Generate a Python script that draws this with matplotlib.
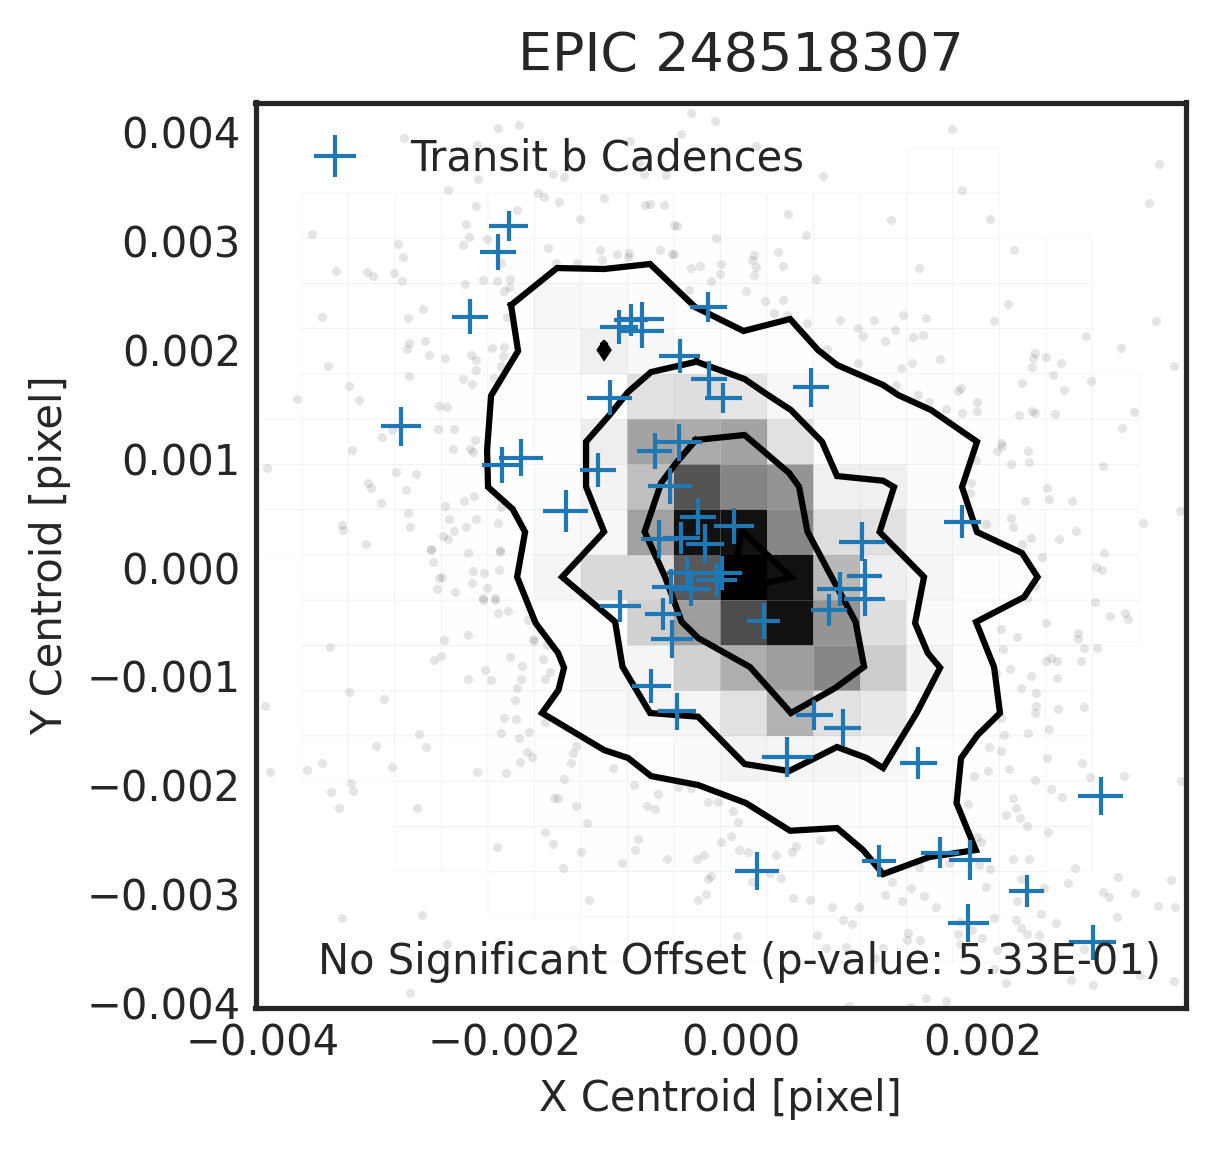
import numpy as np
import matplotlib
matplotlib.use('Agg')
import matplotlib.pyplot as plt
from matplotlib.lines import Line2D
from matplotlib.transforms import ScaledTranslation

# all centroid values below are in units of 1e-3 pixel
title = 'EPIC 248518307'
xlabel = 'X Centroid [pixel]'
ylabel = 'Y Centroid [pixel]'
legend_label = 'Transit b Cadences'
note = 'No Significant Offset (p-value: 5.33E-01)'
xticks = [-4, -2, 0, 2]
yticks = [-4, -3, -2, -1, 0, 1, 2, 3, 4]
xlim = (-4.013, 3.673)
ylim = (-4.040, 4.270)

# 2d histogram density, rows from the top of the plot, 20 x 20 bins
density = [
    [0, 0, 0, 0, 0, 0, 0, 0, 0, 0, 0, 0, 0, 0, 0, 0, 0, 0, 0, 0],
    [0, 0, 0, 0, 0, 0, 0, 0, 0, 0, 0, 0, 0, 0, .003, .003, 0, 0, 0, 0],
    [0, .002, .002, .002, .002, .002, .002, .002, .002, .002, .002, .002, .002, .002, .003, .003, 0, 0, 0, 0],
    [0, .002, .002, .003, .003, .004, .006, .006, .006, .005, .004, .003, .003, .003, .003, .003, .002, .002, 0, 0],
    [0, .002, .002, .003, .003, .004, .035, .02, .015, .006, .005, .005, .004, .004, .003, .003, .002, .002, 0, 0],
    [0, .002, .002, .003, .003, .005, .02, .06, .03, .01, .01, .01, .01, .005, .004, .003, .002, .002, 0, 0],
    [0, .002, .002, .003, .004, .006, .01, .01, .12, .13, .1, .03, .025, .01, .005, .004, .003, .002, .002, 0],
    [.002, .002, .002, .003, .004, .006, .01, .07, .36, .33, .36, .12, .01, .01, .015, .005, .003, .002, .002, 0],
    [.002, .002, .002, .003, .004, .006, .015, .05, .25, .67, .48, .42, .06, .06, .015, .006, .003, .002, .002, 0],
    [.002, .002, .002, .003, .004, .006, .025, .035, .37, .93, .93, .47, .13, .12, .03, .03, .01, .003, .002, 0],
    [0, .002, .002, .003, .004, .006, .04, .15, .15, .65, 1, .93, .28, .07, .04, .01, .01, .003, .002, 0],
    [0, .002, .002, .003, .004, .005, .01, .01, .18, .38, .7, .93, .42, .13, .02, .005, .003, .002, .002, 0],
    [0, .002, .002, .003, .003, .005, .008, .03, .04, .18, .32, .38, .47, .2, .05, .006, .003, .002, 0, 0],
    [0, .002, .002, .003, .003, .004, .006, .02, .04, .04, .12, .30, .12, .09, .015, .004, .003, .002, 0, 0],
    [0, .002, .002, .003, .003, .004, .005, .006, .01, .02, .05, .04, .04, .03, .005, .004, .003, .002, 0, 0],
    [0, 0, 0, .002, .002, .003, .004, .004, .005, .006, .01, .015, .015, .01, .01, .005, .003, .002, 0, 0],
    [0, 0, 0, .002, .002, .003, .003, .004, .004, .004, .005, .005, .005, .005, .01, .01, .003, .002, 0, 0],
    [0, 0, 0, 0, 0, .002, .002, .002, .003, .003, .003, .003, .003, .004, .004, .004, .003, 0, 0, 0],
    [0, 0, 0, 0, 0, 0, 0, .002, .002, .002, .002, .002, .002, .002, .002, .002, 0, 0, 0, 0],
    [0, 0, 0, 0, 0, 0, 0, 0, 0, 0, 0, 0, 0, 0, 0, 0, 0, 0, 0, 0],
]

contour_outer = [
    (-1.901, 2.410), (-1.521, 2.750), (-1.132, 2.741), (-0.752, 2.787), (-0.380, 2.392), (0.020, 2.172),
    (0.405, 2.282), (0.636, 1.997), (0.793, 1.860), (1.174, 1.676), (1.298, 1.584), (1.570, 1.446),
    (1.950, 1.155), (1.826, 0.739), (1.950, 0.326), (2.322, 0.133), (2.450, -0.087), (2.339, -0.271),
    (1.942, -0.500), (2.091, -0.914), (2.140, -1.336), (1.955, -1.538), (1.818, -1.749), (1.781, -2.163),
    (1.940, -2.594), (1.558, -2.658), (1.174, -2.815), (1.008, -2.594), (0.793, -2.392), (0.405, -2.417),
    (0.041, -2.163), (-0.355, -1.997), (-0.744, -1.915), (-0.934, -1.749), (-1.132, -1.676), (-1.645, -1.336),
    (-1.509, -1.125), (-1.463, -0.920), (-1.512, -0.785), (-1.698, -0.510), (-1.851, -0.087), (-1.785, 0.326),
    (-1.888, 0.537), (-2.091, 0.739), (-2.099, 1.079), (-2.066, 1.578), (-1.843, 1.988), (-1.901, 2.410),
]
contour_middle = [
    (-0.369, 1.890), (0.029, 1.731), (0.198, 1.602), (0.412, 1.446), (0.669, 1.155), (0.793, 0.840),
    (1.174, 0.797), (1.264, 0.739), (1.145, 0.326), (1.512, -0.087), (1.438, -0.510), (1.543, -0.785),
    (1.645, -0.920), (1.451, -1.336), (1.174, -1.841), (1.038, -1.749), (0.793, -1.648), (0.397, -1.869),
    (0.029, -1.804), (-0.355, -1.370), (-0.752, -1.336), (-0.980, -0.911), (-1.041, -0.498), (-1.479, -0.087),
    (-1.132, 0.329), (-1.281, 0.742), (-1.281, 1.155), (-1.087, 1.400), (-0.934, 1.612), (-0.744, 1.795),
    (-0.369, 1.890),
]
contour_inner = [
    (-0.374, 1.171), (0.029, 1.217), (0.397, 0.868), (0.479, 0.742), (0.549, 0.329), (0.748, -0.087),
    (0.946, -0.498), (1.017, -0.911), (0.777, -1.107), (0.412, -1.336), (0.074, -0.914), (-0.355, -0.647),
    (-0.491, -0.498), (-0.628, -0.087), (-0.797, 0.329), (-0.661, 0.776), (-0.537, 0.960), (-0.374, 1.171),
]
contour_core = [(0.008, 0.335), (0.413, -0.087), (0.025, -0.188), (-0.066, -0.087), (-0.033, 0.115), (0.008, 0.335)]
contour_spot = [(-1.132, 2.052), (-1.099, 1.997), (-1.132, 1.942), (-1.165, 1.997), (-1.132, 2.052)]

# transit cadences: x, y, half length of the cross in x, in y
cadence_x = [-0.273, -1.011, -0.909, -0.818, -0.818, -0.506, -0.268, -0.149, -1.087, 0.576, -0.512, -0.714, -1.821,
             -1.975, -1.185, -0.588, -1.448, -0.355, -0.060, 1.826, -0.678, -0.496, -0.298, 0.998, 1.023, 0.815,
             1.023, 0.727, 0.188, -0.157, -0.200, -0.446, -0.579, -0.413, -1.000, -0.645, -0.570, -0.744, -0.531,
             0.603, 0.840, 0.380, 1.463, 1.645, 1.140, 1.893, 0.130, 2.973, 2.361, 1.876, 2.907, -1.920, -2.008,
             -2.240, -2.810]
cadence_y = [2.392, 2.211, 2.273, 2.282, 2.174, 1.945, 1.731, 1.559, 1.559, 1.657, 1.152, 1.070, 1.008,
             0.941, 0.895, 0.751, 0.522, 0.466, 0.384, 0.421, 0.262, 0.271, 0.219, 0.237, -0.075, -0.197,
             -0.289, -0.390, -0.491, -0.048, -0.115, -0.051, -0.176, -0.197, -0.351, -0.427, -0.657, -1.085, -1.318,
             -1.352, -1.471, -1.737, -1.792, -2.619, -2.692, -2.683, -2.784, -2.095, -2.968, -3.264, -3.439, 3.136, 2.900,
             2.303, 1.299]
cadence_xerr = [.153, .157, .140, .178, .182, .169, .149, .153, .186, .149, .190, .145, .182,
                .169, .149, .182, .186, .149, .165, .153, .153, .153, .153, .190, .145, .190,
                .169, .149, .136, .161, .169, .165, .157, .153, .169, .145, .174, .161, .157,
                .153, .153, .211, .153, .157, .140, .174, .182, .186, .145, .169, .194, .161, .149,
                .145, .165]
cadence_yerr = [.138, .156, .147, .156, .156, .156, .165, .138, .161, .179, .170, .161, .170,
                .165, .156, .165, .193, .170, .165, .151, .174, .151, .179, .179, .156, .156,
                .156, .151, .165, .156, .156, .147, .161, .156, .147, .147, .174, .156, .170,
                .138, .170, .184, .147, .142, .147, .184, .174, .174, .147, .174, .161, .142, .165,
                .161, .179]

# faint individual samples outside the contours
samples = [
    (-2.006, 4.033), (-1.832, 4.060), (-2.782, 3.941), (-2.179, 3.880), (-2.171, 3.565), (-1.556, 3.611),
    (-2.419, 3.464), (-1.675, 3.436), (-1.625, 3.399), (-2.187, 3.317), (-1.849, 3.280), (-2.270, 3.151),
    (-3.543, 3.059), (-2.245, 3.032), (-2.295, 2.958), (-2.096, 3.017), (-2.832, 2.968), (-1.592, 2.931),
    (-2.790, 2.848), (-1.981, 2.793), (-3.345, 2.720), (-3.088, 2.711), (-3.039, 2.674), (-2.865, 2.702),
    (-2.799, 2.628), (-2.278, 2.601), (-2.130, 2.637), (-2.014, 2.628), (-1.907, 2.646), (-1.915, 2.573),
    (-1.956, 2.536), (-2.625, 2.371), (-3.460, 2.297), (-2.749, 2.288), (-1.931, 2.297), (-2.741, 2.059),
    (-2.758, 2.004), (-2.609, 2.077), (-2.055, 2.013), (-1.956, 2.022), (-2.576, 1.949), (-2.444, 1.921),
    (-2.229, 1.949), (-2.187, 1.903), (-1.964, 1.939), (-3.411, 1.848), (-1.983, 1.848), (-2.187, 1.811),
    (-2.741, 1.756), (-2.295, 1.728), (-2.221, 1.682), (-2.039, 1.737), (-3.237, 1.664), (-3.667, 1.545),
    (-3.154, 1.535), (-2.493, 1.480), (-2.427, 1.471), (-2.502, 1.269), (-2.369, 1.269), (-2.882, 1.260),
    (-2.964, 1.196), (-3.212, 1.076), (-2.196, 1.168), (-2.378, 1.085), (-2.237, 1.085), (-2.212, 1.058),
    (-3.915, 0.911), (-2.849, 0.874), (-2.683, 0.856), (-3.080, 0.773), (-3.055, 0.727), (-2.766, 0.709),
    (-2.973, 0.590), (-2.204, 0.654), (-2.287, 0.608), (-2.444, 0.562), (-1.981, 0.553), (-2.749, 0.498),
    (-2.411, 0.443), (-2.187, 0.443), (-2.006, 0.406), (-3.295, 0.388), (-3.287, 0.342), (-2.733, 0.369),
    (-2.270, 0.369), (-2.369, 0.332), (-2.460, 0.286), (-2.419, 0.259), (-3.097, 0.213), (-2.559, 0.167),
    (-1.989, 0.161),
    (-2.130, -0.298), (-2.031, -0.298), (-2.006, -0.421), (-1.923, -0.402), (-3.394, -0.733), (-2.452, -0.669),
    (-2.254, -0.623), (-2.477, -0.816), (-2.535, -0.852), (-1.758, -0.482), (-1.717, -0.659), (-1.708, -0.678),
    (-1.606, -0.712), (-1.907, -0.825), (-1.634, -0.843), (-1.807, -0.907), (-2.113, -0.944), (-1.576, -0.962),
    (-2.254, -1.027), (-2.064, -1.036), (-1.815, -1.027), (-1.617, -1.027), (-1.849, -1.109), (-3.237, -1.146),
    (-2.948, -1.210), (-1.865, -1.219), (-3.931, -1.275), (-1.956, -1.385), (-1.857, -1.394), (-1.620, -1.416),
    (-1.981, -1.522), (-1.750, -1.513), (-2.659, -1.532), (-1.832, -1.568), (-2.601, -1.651), (-3.014, -1.642),
    (-1.766, -1.697), (-1.725, -1.743), (-1.824, -1.789), (-3.460, -1.798), (-3.584, -1.862), (-3.890, -1.881),
    (-2.882, -1.835), (-2.179, -1.881), (-1.940, -1.890), (-3.221, -1.982), (-3.386, -2.064), (-3.204, -2.055),
    (-3.320, -2.211), (-2.675, -2.211), (-1.543, -2.119), (-1.617, -2.432), (-1.556, -2.542), (-2.014, -2.569),
    (-3.295, -3.221), (-2.634, -3.194), (-2.427, -3.460), (-2.733, -3.910),
    (-1.531, 2.793), (-1.356, 2.793), (-1.149, 2.824), (-1.026, 2.879), (-0.928, 2.885), (-0.674, 2.915),
    (-0.567, 2.879), (0.106, 2.870), (0.304, 2.900), (0.090, 2.824), (-0.169, 2.787), (-0.338, 2.769),
    (-0.414, 2.747), (0.350, 2.769), (0.121, 2.757), (-0.176, 2.692), (0.106, 2.686), (-0.252, 2.631),
    (0.619, 2.646), (-0.430, 2.548), (0.038, 2.539), (0.200, 2.447), (0.344, 2.456), (0.274, 2.334),
    (0.381, 2.319), (0.549, 2.242), (0.815, 2.273), (1.102, 2.273), (0.968, 2.197), (1.011, 2.126),
    (0.708, 2.006), (0.968, 1.875),
    (-0.411, 4.171), (-0.212, 4.097), (-0.493, 3.978), (-0.915, 3.914), (0.126, 3.868), (-1.460, 3.583),
    (-0.799, 3.611), (-0.617, 3.601), (0.680, 3.592), (-1.502, 3.354), (-1.130, 3.390), (-0.791, 3.326),
    (-0.750, 3.335), (-0.634, 3.326), (0.391, 3.243), (-1.328, 3.197), (-0.551, 3.142), (-0.526, 3.133),
    (0.540, 3.050), (-0.204, 3.023), (-0.840, 3.712), (-1.163, 2.913), (-0.931, 2.848), (-0.551, 2.876),
    (1.746, 4.024), (3.457, 3.702), (1.829, 3.464), (3.374, 3.344), (2.060, 3.197), (1.242, 3.188),
    (2.259, 2.913), (1.474, 2.747), (2.209, 2.417), (2.093, 2.261), (3.432, 2.261), (1.341, 2.316),
    (1.531, 2.288), (1.275, 2.178), (1.193, 2.077), (1.424, 2.114), (1.507, 2.132), (2.854, 2.123),
    (3.143, 2.013), (2.432, 1.967), (2.416, 1.921), (2.523, 1.930), (2.647, 1.875), (1.416, 1.875),
    (1.325, 1.829), (1.647, 1.912), (2.407, 1.838), (3.579, 1.848), (2.581, 1.765), (2.895, 1.710),
    (2.325, 1.691), (1.281, 1.673), (1.465, 1.581), (2.672, 1.627), (1.796, 1.618), (1.821, 1.646),
    (1.556, 1.517), (1.953, 1.517), (1.697, 1.453), (1.829, 1.416), (1.953, 1.434), (2.300, 1.398),
    (2.407, 1.434), (2.432, 1.416), (2.598, 1.407), (3.250, 1.425), (3.151, 1.278), (2.151, 1.141),
    (2.160, 1.113), (2.118, 1.067), (2.374, 1.067), (2.383, 0.966), (2.234, 0.948), (2.994, 0.929),
    (1.940, 0.984), (1.903, 0.773), (1.895, 0.681), (2.531, 0.727), (2.548, 0.626), (2.350, 0.608),
    (2.738, 0.608), (3.631, 0.516), (3.325, 0.406), (2.234, 0.452), (2.250, 0.369), (2.027, 0.397),
    (2.771, 0.332), (2.399, 0.268), (2.631, 0.259), (2.325, 0.213),
    (2.926, -0.314), (3.052, -0.448), (3.176, -0.421), (3.201, -0.476), (2.523, -0.512), (2.788, -0.604),
    (2.788, -0.659), (2.151, -0.567), (2.283, -0.641), (2.837, -0.742), (2.945, -0.742), (2.168, -0.751),
    (2.523, -0.861), (2.564, -0.834), (2.614, -0.861), (2.812, -0.861), (2.226, -0.935), (2.399, -0.999),
    (2.614, -1.017), (2.317, -1.109), (2.440, -1.155), (2.110, -0.972), (2.438, -1.275), (2.432, -1.339),
    (2.622, -1.302), (2.837, -1.284), (2.151, -1.385), (2.548, -1.486), (2.374, -1.522), (2.176, -1.541),
    (2.052, -1.651), (2.151, -1.688), (2.531, -1.752), (2.821, -1.798), (2.044, -1.871), (2.217, -1.853),
    (1.928, -1.917), (2.432, -1.954), (2.887, -1.927), (3.168, -1.917), (3.639, -1.963), (2.564, -2.037),
    (2.655, -2.110), (1.879, -2.174), (2.250, -2.119), (2.275, -2.211), (2.193, -2.275), (2.308, -2.303),
    (2.366, -2.376), (2.540, -2.432), (1.953, -2.477), (1.986, -2.523), (1.722, -2.716), (1.969, -2.735),
    (2.250, -2.680), (2.383, -2.680), (2.060, -2.771), (2.763, -2.762), (1.474, -2.747), (1.250, -2.891),
    (1.407, -2.946), (1.190, -3.010), (1.515, -3.019), (1.333, -3.065), (1.614, -3.120), (2.027, -2.937),
    (2.705, -2.900), (2.317, -2.863), (2.507, -2.946), (2.283, -3.065), (3.116, -2.845), (2.994, -2.983),
    (3.044, -3.028), (3.259, -2.992), (3.556, -2.872), (3.449, -3.111), (3.589, -3.120), (2.482, -3.185),
    (2.093, -3.221), (2.275, -3.240), (3.110, -3.212), (2.606, -3.267), (1.812, -3.252), (1.912, -3.331),
    (2.317, -3.313), (1.796, -3.368), (1.383, -3.359), (2.366, -3.368), (2.465, -3.377), (1.374, -3.421),
    (1.994, -3.405), (1.482, -3.423), (1.812, -3.460), (2.118, -3.515), (2.837, -3.506), (1.176, -3.497),
    (2.093, -3.690), (3.300, -3.739), (2.730, -3.791), (2.193, -3.815), (3.581, -3.800), (2.912, -3.837),
    (1.531, -3.956), (1.697, -3.983), (1.407, -4.033),
    (-1.989, 0.145), (-2.121, -0.053), (-1.998, -0.023), (-2.096, -0.185), (-2.130, -0.283), (-2.035, -0.283),
    (-1.368, -1.636), (-1.387, -1.706), (-1.402, -1.798), (-1.056, -1.844), (-1.460, -1.945), (-0.882, -2.000),
    (-0.521, -2.018), (-0.683, -2.083), (-0.414, -2.028), (-1.509, -2.119), (-1.368, -2.193), (-0.781, -2.193),
    (-0.708, -2.220), (-0.277, -2.156), (-0.194, -2.156), (-0.063, -2.239), (-1.270, -2.349), (-0.029, -2.340),
    (-0.849, -2.496), (-0.087, -2.468), (-0.169, -2.523), (-0.873, -2.597), (-1.319, -2.615), (-0.017, -2.597),
    (0.054, -2.615), (0.292, -2.643), (0.457, -2.557), (0.417, -2.615), (0.656, -2.505), (-0.310, -2.643),
    (-0.362, -2.680), (-0.616, -2.680), (-0.980, -2.716), (-1.469, -2.762),
    (-0.248, -2.833), (-0.270, -2.860), (0.094, -2.885), (0.242, -2.808), (0.333, -2.854), (-1.254, -3.056),
    (-0.353, -3.056), (-0.287, -3.001), (0.432, -3.038), (0.573, -3.056), (0.755, -3.120), (0.978, -3.120),
    (0.845, -3.240), (0.920, -3.276), (0.631, -3.377), (-0.031, -3.387), (0.705, -3.497), (0.870, -3.488),
    (-1.386, -3.512), (1.107, -3.589), (0.895, -4.027),
    (-2.559, 0.158), (-2.543, 0.048), (-2.493, -0.099), (-2.469, -0.090), (-2.510, -0.200), (-2.361, -0.228),
    (-2.254, 0.130), (-2.212, -0.035), (-2.221, -0.145),
    (3.003, 0.130), (2.490, 0.094), (2.936, 0.002), (2.986, -0.026), (2.432, -0.173), (2.361, -0.283),
]

plt.rcParams['font.family'] = 'DejaVu Sans'
ink = '#262626'

fig = plt.figure(figsize=(12.15 / 3, 11.49 / 3), dpi=300)
ax = fig.add_axes([255.5 / 1215, 1 - 1007.5 / 1149, 930 / 1215, 905 / 1149])

# density cells, empty bins are left out
x_edges = np.linspace(xlim[0], xlim[1], 21) * 1e-3
y_edges = np.linspace(ylim[1], ylim[0], 21) * 1e-3
H = np.ma.masked_equal(np.array(density), 0)
ax.pcolor(x_edges, y_edges, H, cmap='gray_r', vmin=0, vmax=1,
          edgecolors=(0, 0, 0, 0.035), linewidth=0.2, zorder=1)

# background samples
pts = np.array(samples) * 1e-3
ax.plot(pts[:, 0], pts[:, 1], 'o', ms=2.2, mew=0, color='k', alpha=0.1, zorder=2)

# contours
for c in [contour_outer, contour_middle, contour_inner, contour_core, contour_spot]:
    c = np.array(c) * 1e-3
    ax.plot(c[:, 0], c[:, 1], color='k', lw=1.5, solid_joinstyle='miter', zorder=3)

# transit cadences
ax.errorbar(np.array(cadence_x) * 1e-3, np.array(cadence_y) * 1e-3,
            xerr=np.array(cadence_xerr) * 1e-3, yerr=np.array(cadence_yerr) * 1e-3,
            fmt='none', ecolor='#1f77b4', elinewidth=1.0, capsize=0, zorder=4)

ax.set_xlim(xlim[0] * 1e-3, xlim[1] * 1e-3)
ax.set_ylim(ylim[0] * 1e-3, ylim[1] * 1e-3)
ax.set_xticks(np.array(xticks) * 1e-3)
ax.set_yticks(np.array(yticks) * 1e-3)
ax.set_xticklabels(['%.3f' % (v * 1e-3) if v >= 0 else '\u2212%.3f' % (-v * 1e-3) for v in xticks])
ax.set_yticklabels(['%.3f' % (v * 1e-3) if v >= 0 else '\u2212%.3f' % (-v * 1e-3) for v in yticks])
ax.tick_params(length=0, labelsize=10, labelcolor=ink, pad=3.5)
for label in ax.get_yticklabels():
    label.set_verticalalignment('center_baseline')
# the labels with a minus sit a little to the right in the reference
nudge = ScaledTranslation(5.5 / 300, 0, fig.dpi_scale_trans)
for label, v in zip(ax.get_xticklabels(), xticks):
    if v < 0:
        label.set_transform(label.get_transform() + nudge)
for s in ax.spines.values():
    s.set_linewidth(1.25)
    s.set_color(ink)

ax.set_title(title, fontsize=12.95, color=ink, pad=7.6, x=0.522)
ax.set_xlabel(xlabel, fontsize=10, color=ink, labelpad=3.4)
ax.set_ylabel(ylabel, fontsize=10, color=ink, labelpad=3.8)

handle = Line2D([], [], ls='none', marker='+', ms=10, mew=1.0, color='#1f77b4')
ax.legend([handle], [legend_label], loc='upper left', bbox_to_anchor=(-0.001, 1.0033), frameon=False,
          fontsize=10, labelcolor=ink, borderpad=0.4, borderaxespad=0.52, handletextpad=0.82)
ax.text(0.9735, 0.037, note, transform=ax.transAxes, ha='right', va='baseline',
        fontsize=10, color=ink, zorder=5)

fig.savefig('out.png', dpi=300)
